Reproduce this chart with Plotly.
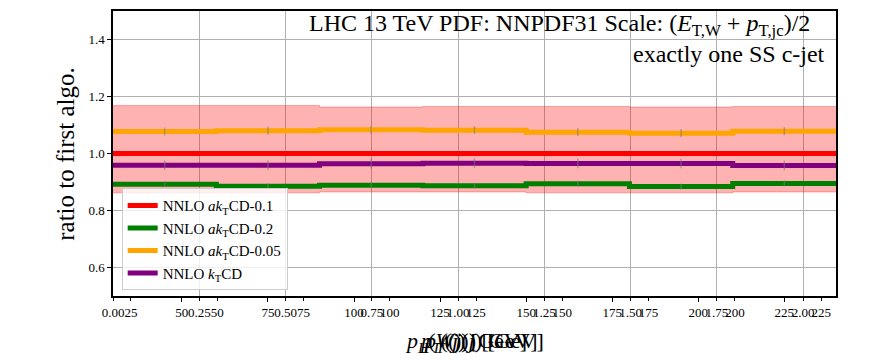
import plotly.graph_objects as go

# bin edges in pT [GeV]
bin_edges = [30, 60, 90, 120, 150, 180, 210, 240]
bin_centers = [45, 75, 105, 135, 165, 195, 225]

band_upper = [1.168, 1.168, 1.163, 1.165, 1.165, 1.163, 1.165]
band_lower = [0.862, 0.862, 0.865, 0.865, 0.862, 0.862, 0.865]

ratio_akt01 = [1.0, 1.0, 1.0, 1.0, 1.0, 1.0, 1.0]
ratio_akt02 = [0.892, 0.885, 0.889, 0.887, 0.894, 0.884, 0.895]
ratio_akt005 = [1.077, 1.080, 1.083, 1.082, 1.075, 1.071, 1.078]
ratio_kt = [0.959, 0.959, 0.964, 0.966, 0.965, 0.965, 0.958]

err_akt02 = [0.010, 0.010, 0.010, 0.010, 0.010, 0.010, 0.010]
err_akt005 = [0.014, 0.014, 0.014, 0.014, 0.014, 0.014, 0.014]
err_kt = [0.017, 0.017, 0.017, 0.017, 0.017, 0.017, 0.017]

names = ["NNLO <i>ak</i><sub>T</sub>CD-0.1", "NNLO <i>ak</i><sub>T</sub>CD-0.2",
         "NNLO <i>ak</i><sub>T</sub>CD-0.05", "NNLO <i>k</i><sub>T</sub>CD"]
colors = ["#ff0000", "#008000", "#ffa500", "#800080"]

frac_ticks = [0.0, 0.25, 0.5, 0.75, 1.0, 1.25, 1.5, 1.75, 2.0]
frac_labels = ["0.00", "0.25", "0.50", "0.75", "1.00", "1.25", "1.50", "1.75", "2.00"]
pt_ticks = [25, 50, 75, 100, 125, 150, 175, 200, 225]
y_ticks = [0.6, 0.8, 1.0, 1.2, 1.4]

FONT = "Liberation Serif"

def step(vals):
    return list(vals) + [vals[-1]]

fig = go.Figure()

# scale band
fig.add_trace(go.Scatter(x=bin_edges, y=step(band_lower), mode="lines",
                         line=dict(shape="hv", color="rgba(255,0,0,0.3)", width=1),
                         showlegend=False, hoverinfo="skip"))
fig.add_trace(go.Scatter(x=bin_edges, y=step(band_upper), mode="lines",
                         line=dict(shape="hv", color="rgba(255,0,0,0.3)", width=1),
                         fill="tonexty", fillcolor="rgba(255,0,0,0.3)",
                         showlegend=False, hoverinfo="skip"))

series = [ratio_akt01, ratio_akt02, ratio_akt005, ratio_kt]
errs = [None, err_akt02, err_akt005, err_kt]
for name, col, vals, err in zip(names, colors, series, errs):
    fig.add_trace(go.Scatter(x=bin_edges, y=step(vals), mode="lines", name=name,
                             line=dict(shape="hv", color=col, width=5)))
    if err is not None:
        fig.add_trace(go.Scatter(x=bin_centers, y=vals, mode="markers",
                                 marker=dict(size=0.1, color="rgba(0,0,0,0)"),
                                 error_y=dict(type="data", array=err, color="rgba(120,120,120,0.55)",
                                              thickness=1.5, width=0),
                                 showlegend=False, hoverinfo="skip"))

# overlaid axes (grid from fractional axis, labels from other two)
fig.add_trace(go.Scatter(x=[0], y=[1], xaxis="x2", mode="markers",
                         marker=dict(opacity=0), showlegend=False, hoverinfo="skip"))
fig.add_trace(go.Scatter(x=[100], y=[1], xaxis="x3", mode="markers",
                         marker=dict(opacity=0), showlegend=False, hoverinfo="skip"))

axfont = dict(family=FONT, size=13, color="black")
fig.update_layout(
    width=864, height=355,
    margin=dict(l=105, r=36, t=3, b=67, autoexpand=False),
    plot_bgcolor="white", paper_bgcolor="white",
    xaxis=dict(range=[30, 240], tickvals=pt_ticks, ticktext=[str(t) for t in pt_ticks],
               showgrid=False, zeroline=False, ticks="outside", ticklen=4, tickcolor="black",
               showline=True, linecolor="black", linewidth=1.5, mirror=True,
               tickfont=axfont, automargin=False),
    xaxis2=dict(overlaying="x", side="bottom", range=[0, 2.095], tickvals=frac_ticks,
                ticktext=frac_labels, showgrid=True, gridcolor="#b0b0b0", gridwidth=1,
                zeroline=False, ticks="outside", ticklen=4, tickcolor="black",
                tickfont=axfont, showline=False, automargin=False),
    xaxis3=dict(overlaying="x", side="bottom", range=[19.8, 229.3], tickvals=pt_ticks,
                ticktext=[str(t) for t in pt_ticks], showgrid=False, zeroline=False,
                ticks="outside", ticklen=4, tickcolor="black", tickfont=axfont, showline=False,
                automargin=False),
    yaxis=dict(range=[0.5, 1.5], tickvals=y_ticks, ticktext=["0.6", "0.8", "1.0", "1.2", "1.4"],
               showgrid=True, gridcolor="#b0b0b0", gridwidth=1, zeroline=False,
               ticks="outside", ticklen=4, tickcolor="black",
               showline=True, linecolor="black", linewidth=1.5, mirror=True,
               tickfont=axfont, automargin=False),
    legend=dict(x=0.012, y=0.02, xanchor="left", yanchor="bottom", traceorder="normal",
                bgcolor="rgba(255,255,255,0.8)", bordercolor="#cccccc", borderwidth=1,
                font=dict(family=FONT, size=15, color="black"), tracegroupgap=0,
                itemwidth=30),
    annotations=[
        dict(text="ratio to first algo.", xref="paper", yref="paper", x=-0.066, y=0.5,
             xanchor="center", yanchor="middle", textangle=-90, showarrow=False,
             font=dict(family=FONT, size=25, color="black")),
        dict(text="LHC 13 TeV PDF: NNPDF31 Scale: (<i>E</i><sub>T,W</sub> + <i>p</i><sub>T,jc</sub>)/2",
             xref="paper", yref="paper", x=0.967, y=0.951, xanchor="right", yanchor="middle",
             showarrow=False, font=dict(family=FONT, size=24, color="black")),
        dict(text="exactly one SS c-jet", xref="paper", yref="paper", x=0.987, y=0.849,
             xanchor="right", yanchor="middle", showarrow=False,
             font=dict(family=FONT, size=24, color="black")),
        dict(text="<i>p<sub>T</sub></i>(<i>j</i>) [GeV]", xref="paper", yref="paper",
             x=0.5, y=-0.105, xanchor="center", yanchor="top", showarrow=False,
             font=dict(family=FONT, size=22, color="black")),
        dict(text="<i>p<sub>T</sub></i>((<i>j</i>)) [GeV]", xref="paper", yref="paper",
             x=0.505, y=-0.105, xanchor="center", yanchor="top", showarrow=False,
             font=dict(family=FONT, size=22, color="black")),
        dict(text="<i>p<sub>II</sub></i>(<i>W</i>)(<i>j</i>) [GeV]", xref="paper", yref="paper",
             x=0.5, y=-0.105, xanchor="center", yanchor="top", showarrow=False,
             font=dict(family=FONT, size=22, color="black")),
    ],
)

fig.write_html("out.html")
